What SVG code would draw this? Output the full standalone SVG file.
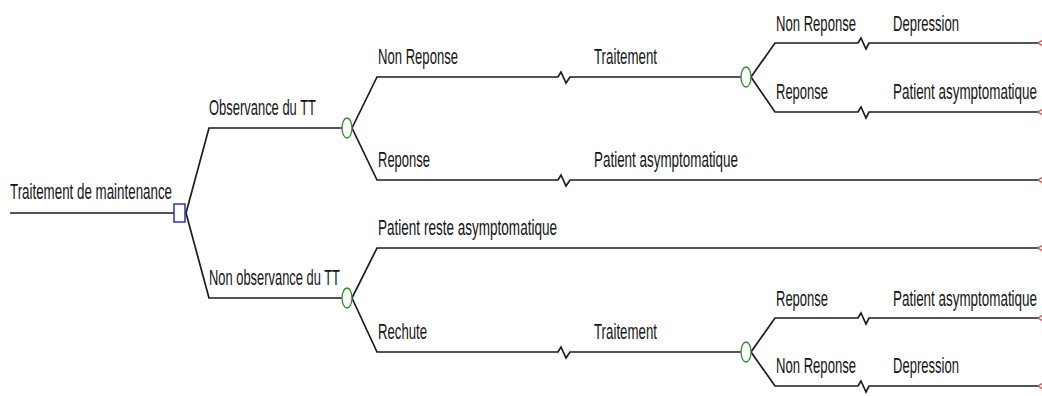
<svg xmlns="http://www.w3.org/2000/svg" width="1042" height="396" viewBox="0 0 1042 396">
<style>
.ln{fill:none;stroke:#1c1c1c;stroke-width:1.7;stroke-linejoin:miter}
.t{font-family:"Liberation Sans",Arial,sans-serif;font-size:22px;fill:#151515}
.chance{fill:#fff;stroke:#2e8b2e;stroke-width:1.3}
.dec{fill:#fff;stroke:#1f2a8f;stroke-width:1.4}
.term{fill:none;stroke:#d04848;stroke-width:1.2}
</style>
<rect width="1042" height="396" fill="#fff"/>
<g id="connectors">
<path class="ln" d="M10,213 H174"/>
<path class="ln" d="M186,213 L209,128 H342"/>
<path class="ln" d="M186,213 L209,298 H342"/>
<path class="ln" d="M352,128 L377,77 H558 L561,72 L566,83 L570,77 H741"/>
<path class="ln" d="M352,128 L377,180 H558 L561,175 L566,186 L570,180 H1038"/>
<path class="ln" d="M751,77 L775,43 H858 L861,38 L866,49 L869,43 H1038"/>
<path class="ln" d="M751,77 L775,112 H858 L861,107 L866,118 L869,112 H1038"/>
<path class="ln" d="M352,298 L377,248 H1038"/>
<path class="ln" d="M352,298 L377,352 H558 L561,347 L566,358 L570,352 H741"/>
<path class="ln" d="M751,352 L775,318 H858 L861,313 L866,324 L869,318 H1038"/>
<path class="ln" d="M751,352 L775,386 H858 L861,381 L866,392 L869,386 H1038"/>
</g>
<g id="root">
<text class="t" x="10" y="199" textLength="162" lengthAdjust="spacingAndGlyphs">Traitement de maintenance</text>
<rect class="dec" x="174" y="204" width="11" height="18"/>
</g>
<g id="observance">
<text class="t" x="209" y="115" textLength="107" lengthAdjust="spacingAndGlyphs">Observance du TT</text>
<ellipse class="chance" cx="347" cy="128" rx="5" ry="10"/>
</g>
<g id="non-observance">
<text class="t" x="209" y="285" textLength="131" lengthAdjust="spacingAndGlyphs">Non observance du TT</text>
<ellipse class="chance" cx="347" cy="298" rx="5" ry="10"/>
</g>
<g id="obs-non-reponse">
<text class="t" x="378" y="64" textLength="80" lengthAdjust="spacingAndGlyphs">Non Reponse</text>
<text class="t" x="594" y="64" textLength="63" lengthAdjust="spacingAndGlyphs">Traitement</text>
<ellipse class="chance" cx="746" cy="77" rx="5" ry="10"/>
</g>
<g id="obs-nr-non-reponse">
<text class="t" x="776" y="31" textLength="80" lengthAdjust="spacingAndGlyphs">Non Reponse</text>
<text class="t" x="893" y="31" textLength="66" lengthAdjust="spacingAndGlyphs">Depression</text>
<polygon class="term" points="1038,43 1046,38 1046,48"/>
</g>
<g id="obs-nr-reponse">
<text class="t" x="776" y="99" textLength="52" lengthAdjust="spacingAndGlyphs">Reponse</text>
<text class="t" x="893" y="99" textLength="144" lengthAdjust="spacingAndGlyphs">Patient asymptomatique</text>
<polygon class="term" points="1038,112 1046,107 1046,117"/>
</g>
<g id="obs-reponse">
<text class="t" x="378" y="167" textLength="52" lengthAdjust="spacingAndGlyphs">Reponse</text>
<text class="t" x="594" y="167" textLength="144" lengthAdjust="spacingAndGlyphs">Patient asymptomatique</text>
<polygon class="term" points="1038,180 1046,175 1046,185"/>
</g>
<g id="nonobs-reste">
<text class="t" x="378" y="235" textLength="179" lengthAdjust="spacingAndGlyphs">Patient reste asymptomatique</text>
<polygon class="term" points="1038,248 1046,243 1046,253"/>
</g>
<g id="nonobs-rechute">
<text class="t" x="378" y="339" textLength="49" lengthAdjust="spacingAndGlyphs">Rechute</text>
<text class="t" x="594" y="339" textLength="63" lengthAdjust="spacingAndGlyphs">Traitement</text>
<ellipse class="chance" cx="746" cy="352" rx="5" ry="10"/>
</g>
<g id="rech-reponse">
<text class="t" x="776" y="306" textLength="52" lengthAdjust="spacingAndGlyphs">Reponse</text>
<text class="t" x="893" y="306" textLength="144" lengthAdjust="spacingAndGlyphs">Patient asymptomatique</text>
<polygon class="term" points="1038,318 1046,313 1046,323"/>
</g>
<g id="rech-non-reponse">
<text class="t" x="776" y="373" textLength="80" lengthAdjust="spacingAndGlyphs">Non Reponse</text>
<text class="t" x="893" y="373" textLength="66" lengthAdjust="spacingAndGlyphs">Depression</text>
<polygon class="term" points="1038,386 1046,381 1046,391"/>
</g>
</svg>
